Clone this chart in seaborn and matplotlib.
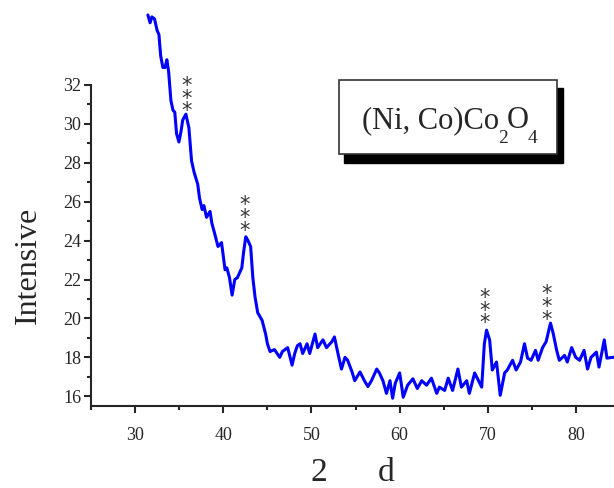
import numpy as np
import pandas as pd
import seaborn as sns
import matplotlib
matplotlib.use("Agg")
import matplotlib.pyplot as plt
from matplotlib.patches import Rectangle
from matplotlib.ticker import MultipleLocator

two_theta = [31.45, 31.7, 31.9, 32.2, 32.5, 32.7, 32.9, 33.15, 33.4, 33.6,
             33.8, 34.06, 34.3, 34.5, 34.7, 34.97, 35.2, 35.4, 35.76, 36.1,
             36.4, 36.7, 37.1, 37.3, 37.6, 37.8, 38.1, 38.5, 38.7, 39.0,
             39.4, 39.8, 40.2, 40.4, 40.7, 41.0, 41.3, 41.6, 42.1, 42.3,
             42.55, 42.8, 43.1, 43.35, 43.6, 43.9, 44.4, 44.8, 45.0, 45.3,
             45.8, 46.4, 46.7, 47.3, 47.8, 48.1, 48.4, 48.7, 49.0, 49.5,
             49.8, 50.4, 50.7, 51.3, 51.7, 52.3, 52.6, 53.0, 53.4, 53.8,
             54.1, 54.6, 54.9, 55.5, 56.0, 56.4, 56.8, 57.4, 57.7, 58.1,
             58.5, 58.9, 59.2, 59.5, 60.0, 60.4, 60.9, 61.5, 62.0, 62.5,
             63.05, 63.6, 64.2, 64.5, 65.1, 65.5, 66.0, 66.6, 67.0, 67.6,
             67.9, 68.5, 68.8, 69.3, 69.6, 69.85, 70.2, 70.5, 70.98, 71.4,
             71.9, 72.2, 72.8, 73.2, 73.7, 74.15, 74.5, 74.9, 75.4, 75.7,
             76.2, 76.6, 77.1, 77.4, 77.8, 78.1, 78.7, 79.0, 79.5, 79.96,
             80.4, 80.9, 81.3, 81.7, 82.3, 82.6, 83.2, 83.5, 84.1, 84.3]
intensity = [35.6, 35.2, 35.5, 35.4, 34.8, 34.6, 33.5, 32.9, 32.9, 33.3,
             32.7, 31.2, 30.7, 30.6, 29.5, 29.07, 29.6, 30.2, 30.5, 29.8,
             28.1, 27.5, 26.9, 26.2, 25.6, 25.8, 25.2, 25.5, 24.9, 24.4,
             23.7, 23.9, 22.5, 22.6, 22.1, 21.2, 22.0, 22.1, 22.6, 23.4,
             24.2, 24.0, 23.7, 22.1, 21.1, 20.3, 19.9, 19.2, 18.7, 18.3,
             18.4, 18.0, 18.3, 18.5, 17.6, 18.2, 18.6, 18.7, 18.2, 18.7,
             18.2, 19.2, 18.5, 18.9, 18.5, 18.8, 19.05, 18.2, 17.4, 18.0,
             17.85, 17.25, 16.8, 17.25, 16.8, 16.5, 16.8, 17.4, 17.2, 16.8,
             16.15, 16.8, 15.9, 16.67, 17.2, 15.95, 16.57, 16.9, 16.4, 16.8,
             16.57, 16.93, 16.15, 16.47, 16.3, 16.93, 16.3, 17.4, 16.47, 16.8,
             16.15, 17.2, 16.93, 16.47, 18.7, 19.4, 18.9, 17.35, 17.76, 16.05,
             17.2, 17.35, 17.85, 17.35, 17.76, 18.7, 17.96, 17.85, 18.36, 17.85,
             18.5, 18.8, 19.76, 19.24, 18.36, 17.85, 18.1, 17.76, 18.5, 18.0,
             17.85, 18.36, 17.4, 18.0, 18.27, 17.5, 18.9, 17.96, 18.0, 18.0]

peak_x = [35.8, 42.4, 69.6, 76.6]
peak_star_y = [31.3, 25.15, 20.4, 20.6]
y_ticks = [16, 18, 20, 22, 24, 26, 28, 30, 32]
x_ticks = [30, 40, 50, 60, 70, 80]

sns.set_style("ticks")
plt.rcParams['font.family'] = ['Liberation Serif', 'DejaVu Serif']

W, H = 614, 488
fig = plt.figure(figsize=(W / 100, H / 100), dpi=100)
ax = fig.add_axes([91/W, 1-406/H, 1-91/W, (406-85)/H])

df = pd.DataFrame({"two_theta": two_theta, "intensity": intensity})
sns.lineplot(data=df, x="two_theta", y="intensity", ax=ax, color="#0000FF",
             lw=2.2, sort=False, clip_on=False)

ax.set_xlim(25, 84.3)
ax.set_ylim(15.5, 32)
ax.set_xticks(x_ticks)
ax.set_yticks(y_ticks)
ax.xaxis.set_minor_locator(MultipleLocator(5))
ax.yaxis.set_minor_locator(MultipleLocator(1))
for s in ['top', 'right']:
    ax.spines[s].set_visible(False)
for s in ['left', 'bottom']:
    ax.spines[s].set_linewidth(1.5)
ax.tick_params(which='major', direction='out', length=5, width=1.5, labelsize=13, pad=2)
ax.tick_params(axis='x', which='major', pad=10)
ax.tick_params(which='minor', direction='out', length=3, width=1.5)

ax.set_xlabel("2      d", fontsize=24, labelpad=10)
ax.set_ylabel("Intensive", fontsize=23)
ax.yaxis.set_label_coords((43 - 91) / (W - 91), (406 - 265) / (406 - 85))

for px, py in zip(peak_x, peak_star_y):
    ax.text(px, py, "*\n*\n*", ha='center', va='center', fontsize=15,
            color='#333333', linespacing=0.55, family='DejaVu Sans')

# label box with shadow
fig.patches.append(Rectangle((344/W, 1-163/H), 219/W, 75/H,
                             transform=fig.transFigure, facecolor='black',
                             edgecolor='black', zorder=5))
fig.patches.append(Rectangle((339/W, 1-154/H), 218/W, 74/H,
                             transform=fig.transFigure, facecolor='white',
                             edgecolor='#333333', lw=1.2, zorder=6))

# sequential layout of the formula: main text, subscripts set lower
pieces = [("(Ni, Co)Co", 0, 22), ("2", 15, 14), ("O", 0, 22), ("4", 15, 14)]
renderer = fig.canvas.get_renderer()
xpos = 362
for txt, drop, fs in pieces:
    t = fig.text(xpos / W, 1 - (128 + drop) / H, txt, fontsize=fs,
                 ha='left', va='baseline', zorder=7)
    bb = t.get_window_extent(renderer=renderer)
    xpos += bb.width - 1

fig.savefig("out.png", dpi=100)
